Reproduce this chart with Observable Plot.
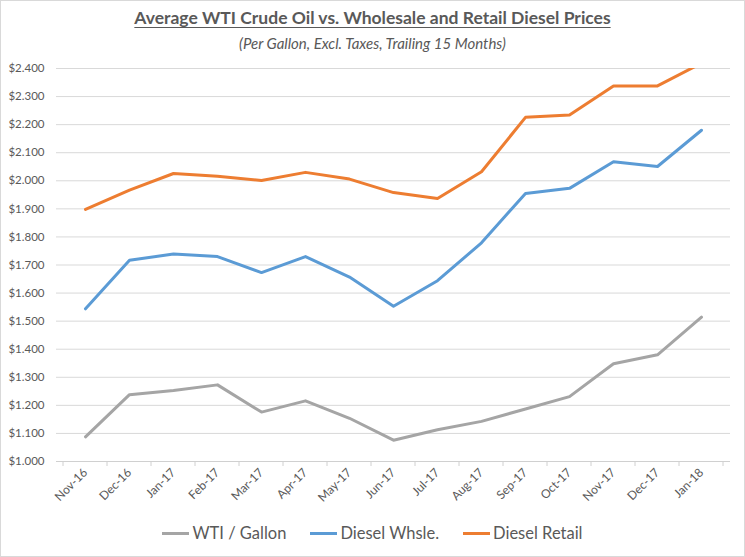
<!DOCTYPE html>
<html>
<head>
<meta charset="utf-8">
<script src="https://cdn.jsdelivr.net/npm/d3@7"></script>
<script src="https://cdn.jsdelivr.net/npm/@observablehq/plot@0.6"></script>
<style>
  body { margin: 0; background: #fff; }
  #wrap { position: relative; width: 745px; height: 557px; overflow: hidden; font-family: Lato, "Open Sans", sans-serif; color: #595959; background: #fff; }
  #chart { position: absolute; left: 0; top: 0; }
  #title { position: absolute; top: 7px; left: 0; width: 100%; text-align: center; font-weight: bold; font-size: 17.5px; text-decoration: underline; text-underline-offset: 3px; }
  #subtitle { position: absolute; top: 34px; left: 0; width: 100%; text-align: center; font-style: italic; font-size: 15px; }
  #legend { position: absolute; top: 522px; left: 0; width: 100%; display: flex; justify-content: center; font-size: 16.5px; line-height: 22px; }
  .item { display: flex; align-items: center; margin: 0 12px; }
  .sw { display: inline-block; width: 27px; height: 3px; margin-right: 3px; }
  #border { position: absolute; left: 0; top: 0; width: 745px; height: 557px; box-sizing: border-box; border: 1px solid #d9d9d9; pointer-events: none; }
</style>
</head>
<body>
<div id="wrap">
  <div id="chart"></div>
  <div id="title">Average WTI Crude Oil vs. Wholesale and Retail Diesel Prices</div>
  <div id="subtitle">(Per Gallon, Excl. Taxes, Trailing 15 Months)</div>
  <div id="legend"></div>
  <div id="border"></div>
</div>
<script>
const months = ["Nov-16","Dec-16","Jan-17","Feb-17","Mar-17","Apr-17","May-17","Jun-17","Jul-17","Aug-17","Sep-17","Oct-17","Nov-17","Dec-17","Jan-18"];
const wtiGallon = [1.088,1.238,1.253,1.273,1.176,1.216,1.154,1.076,1.113,1.143,1.187,1.231,1.348,1.380,1.514];
const dieselWhsle = [1.544,1.717,1.739,1.730,1.673,1.730,1.657,1.553,1.644,1.779,1.955,1.973,2.068,2.051,2.180];
const dieselRetail = [1.898,1.967,2.026,2.016,2.001,2.030,2.006,1.958,1.937,2.032,2.226,2.234,2.338,2.338,2.419];
const seriesNames = ["WTI / Gallon","Diesel Whsle.","Diesel Retail"];
const seriesColors = ["#A5A5A5","#5B9BD5","#ED7D31"];
const yTicks = [1.0,1.1,1.2,1.3,1.4,1.5,1.6,1.7,1.8,1.9,2.0,2.1,2.2,2.3,2.4];

const seriesValues = [wtiGallon, dieselWhsle, dieselRetail];
const data = seriesNames.flatMap((s, si) => months.map((m, i) => ({series: s, month: m, value: seriesValues[si][i]})));

const boundaryTicks = (index, scales, values, dims) => {
  const x = scales.x, y = scales.y;
  const step = x(months[1]) - x(months[0]);
  const g = d3.create("svg:g").attr("stroke", "#d0d0d0").attr("stroke-width", 1);
  const y0 = y(1);
  const pos = months.map(m => x(m) - step / 2).concat([x(months[months.length - 1]) + step / 2]);
  for (const p of pos) {
    g.append("line").attr("x1", p).attr("x2", p).attr("y1", y0).attr("y2", y0 + 5);
  }
  return g.node();
};

const chart = Plot.plot({
  width: 745,
  height: 557,
  marginTop: 68,
  marginBottom: 96,
  marginLeft: 56,
  marginRight: 15,
  style: { background: "transparent", fontFamily: "Lato, 'Open Sans', sans-serif", color: "#595959" },
  x: { type: "point", domain: months, padding: 0.5, label: null },
  y: { domain: [1, 2.4], label: null },
  color: { domain: seriesNames, range: seriesColors },
  marks: [
    Plot.gridY(yTicks, { stroke: "#d9d9d9", strokeOpacity: 1 }),
    Plot.axisY(yTicks, { tickSize: 0, tickPadding: 12, fontSize: 11.5, tickFormat: d => "$" + d.toFixed(3), fill: "#595959" }),
    Plot.ruleY([1], { stroke: "#d0d0d0" }),
    boundaryTicks,
    Plot.axisX({ tickSize: 0, tickPadding: 9, tickRotate: -45, fontSize: 12, fill: "#595959" }),
    Plot.lineY(data, { x: "month", y: "value", stroke: "series", z: "series", strokeWidth: 3, strokeLinejoin: "round", strokeLinecap: "round", clip: true })
  ]
});
document.getElementById("chart").appendChild(chart);

const legend = document.getElementById("legend");
seriesNames.forEach((s, i) => {
  const item = document.createElement("div");
  item.className = "item";
  const sw = document.createElement("span");
  sw.className = "sw";
  sw.style.background = seriesColors[i];
  const t = document.createElement("span");
  t.textContent = s;
  item.appendChild(sw);
  item.appendChild(t);
  legend.appendChild(item);
});
</script>
</body>
</html>
